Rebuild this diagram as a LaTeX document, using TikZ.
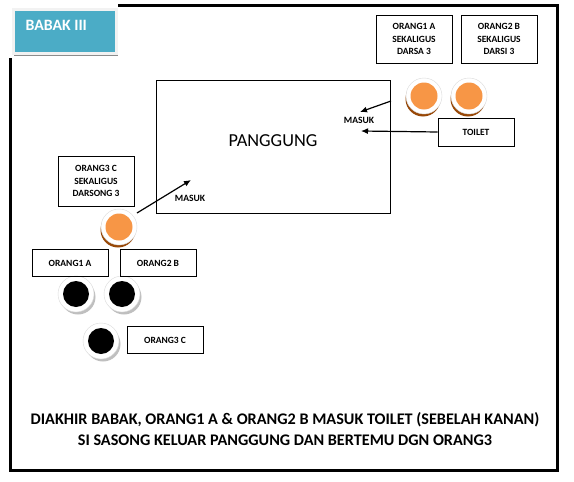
\documentclass[tikz,border=0pt]{standalone}
\usepackage{fontspec}
\setmainfont{Carlito}[BoldFont={Carlito Bold}]
\usetikzlibrary{arrows.meta}
\definecolor{babakblue}{HTML}{4BACC6}
\definecolor{actorange}{HTML}{F79646}
\definecolor{shadebrown}{HTML}{984807}

\begin{document}
\begin{tikzpicture}[x=1pt,y=-1pt]
        \tikzstyle{tag} = [draw,line width=0.8pt,font=\bfseries\fontsize{9.5}{12.3}\selectfont,align=center,minimum width=76pt,inner sep=2pt]
        \tikzstyle{ring} = [draw=black!15,fill=white,circle,minimum size=36pt,inner sep=0pt]
        \tikzstyle{walk} = [-{Latex[length=7pt,width=6pt]},line width=1.2pt]
        \useasboundingbox (0,0) rectangle (574,482);

        % frame and title
        \draw[line width=3pt] (118,5) -- (557,5) -- (557,470) -- (10,470) -- (10,58);
        \fill[black!45] (14,11) rectangle (118,56);
        \node(babak)[fill=babakblue,draw=black!5,line width=2.5pt,minimum width=103pt,minimum height=44pt,anchor=north west] at (12,8) {};
        \node[anchor=west,text=white,font=\bfseries\fontsize{15.8}{18}\selectfont] at (22,25) {BABAK III};

        % stage
        \node(stage)[draw,line width=0.8pt,minimum width=234pt,minimum height=133pt] at (273,146.5) {};
        \node at (273,141) {\fontsize{18.3}{20}\selectfont PANGGUNG};
        \node(masukL)[font=\bfseries\fontsize{9.6}{11}\selectfont] at (190,198) {MASUK};
        \node(masukR)[font=\bfseries\fontsize{9.6}{11}\selectfont] at (359,120) {MASUK};

        % people
        \foreach \n/\x/\y in {oa/424/96,ob/469/96,oc/119/227}{
          \fill[shadebrown] (\x-1,\y+3) circle (17.5pt);
          \node(\n)[ring] at (\x,\y) {};
          \fill[actorange] (\x,\y) circle (13.5pt);
        }
        \foreach \n/\x/\y in {ba/76/294,bb/122/294,bc/101/341}{
          \fill[black!25] (\x+2,\y+3) circle (17.5pt);
          \node(\n)[ring] at (\x,\y) {};
          \fill[black] (\x,\y) circle (13pt);
        }

        % labels
        \node(darsa)[tag,minimum height=48pt] at (414,39) {ORANG1 A\\SEKALIGUS\\DARSA 3};
        \node(darsi)[tag,minimum height=48pt] at (499,39) {ORANG2 B\\SEKALIGUS\\DARSI 3};
        \node(toilet)[tag,minimum height=28pt] at (476,132) {TOILET};
        \node(darsong)[tag,minimum height=50pt] at (96,181) {ORANG3 C\\SEKALIGUS\\DARSONG 3};
        \node(orang1)[tag,minimum height=27pt] at (70,263) {ORANG1 A};
        \node(orang2)[tag,minimum height=27pt] at (158,263) {ORANG2 B};
        \node(orang3)[tag,minimum height=27pt] at (165,340) {ORANG3 C};

        % moves
        \coordinate (inR) at (360,112);
        \coordinate (outR) at (391,101);
        \coordinate (inT) at (361,131);
        \coordinate (inL) at (191,180);
        \coordinate (outL) at (137,213);
        \draw[walk] (outR) -- (inR);
        \draw[walk] (toilet.west) -- (inT);
        \draw[walk] (outL) -- (inL);

        \node(note)[align=center,font=\bfseries\fontsize{16.2}{21}\selectfont] at (285,429)
          {DIAKHIR BABAK, ORANG1 A \& ORANG2 B MASUK TOILET (SEBELAH KANAN)\\SI SASONG KELUAR PANGGUNG DAN BERTEMU DGN ORANG3};
      \end{tikzpicture}
\end{document}
